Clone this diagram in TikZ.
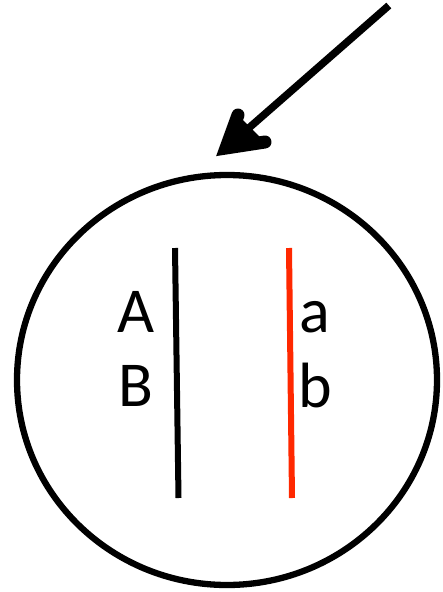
\documentclass[tikz,border=0pt]{standalone}
\usepackage{fontspec}
\setmainfont{Carlito}
\definecolor{linered}{RGB}{255,40,0}
\begin{document}
\begin{tikzpicture}[x=1pt,y=-1pt,
  outline/.style={line width=6.3pt,draw=black},
  bar/.style={line width=6pt},
  lbl/.style={inner sep=0pt,anchor=base,font=\fontsize{64}{64}\selectfont},
  shaft/.style={line width=7.5pt,line cap=rect},
  barbs/.style={line width=13pt,line cap=round,line join=miter}]
\useasboundingbox (0,0) rectangle (442,592);
% cell outline
\draw[outline] (227,380) ellipse [x radius=210, y radius=205];
% chromosome bars
\coordinate (k1) at (175,248);
\coordinate (k2) at (178.5,498);
\coordinate (r1) at (289,248);
\coordinate (r2) at (292,498);
\draw[bar,black] (k1) -- (k2);
\draw[bar,linered] (r1) -- (r2);
% labels
\node[lbl] (A) at (136,332) {A};
\node[lbl] (B) at (136,406) {B};
\node[lbl] (a) at (315,332) {a};
\node[lbl] (b) at (315,407) {b};
% arrow
\coordinate (tail) at (386,8);
\coordinate (v) at (226,148);
\coordinate (b1) at (238,115);
\coordinate (b2) at (265,142);
\draw[shaft] (tail) -- (v);
\fill (b1) -- (v) -- (b2) -- cycle;
\draw[barbs] (b1) -- (v) -- (b2);
\end{tikzpicture}
\end{document}
